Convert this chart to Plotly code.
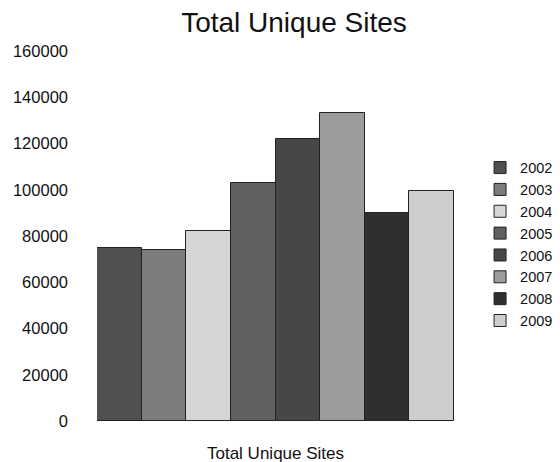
import plotly.graph_objects as go

category = ["Total Unique Sites"]
years = ["2002", "2003", "2004", "2005", "2006", "2007", "2008", "2009"]
values = [75000, 74000, 82000, 103000, 122000, 133000, 90000, 99500]
colors = ["#505050", "#7c7c7c", "#d6d6d6", "#606060", "#474747", "#9c9c9c", "#2f2f2f", "#cecece"]
y_ticks = [0, 20000, 40000, 60000, 80000, 100000, 120000, 140000, 160000]

fig = go.Figure()
for yr, v, c in zip(years, values, colors):
    fig.add_trace(go.Bar(
        x=category, y=[v], name=yr,
        marker=dict(color=c, line=dict(color="#222222", width=1)),
    ))

font_family = "Liberation Sans, Arial, sans-serif"
fig.update_layout(
    width=560, height=462,
    paper_bgcolor="white", plot_bgcolor="white",
    margin=dict(l=97, r=106, t=51, b=41, autoexpand=False),
    barmode="group", bargap=0, bargroupgap=0,
    font=dict(family=font_family, color="#111111", size=16),
    title=dict(text="Total Unique Sites", x=0.525, xref="container", xanchor="center",
               y=1 - 22 / 462, yref="container", yanchor="middle",
               font=dict(size=28, family=font_family, color="#111111")),
    xaxis=dict(showgrid=False, showline=False, zeroline=False, ticks="",
               automargin=False, ticklabelstandoff=20, tickfont=dict(size=17)),
    yaxis=dict(range=[0, 160000], tickvals=y_ticks, ticktext=[str(t) for t in y_ticks],
               showgrid=False, showline=False, zeroline=False, ticks="",
               automargin=False, ticklabelstandoff=28, tickfont=dict(size=16.5)),
    legend=dict(x=1.073, xanchor="left", y=0.478, yanchor="middle",
                font=dict(size=14.5), itemwidth=30,
                bgcolor="rgba(0,0,0,0)"),
    showlegend=True,
)

fig.write_html("out.html", config={"displayModeBar": False},
               post_script="document.body.style.margin='0';")
